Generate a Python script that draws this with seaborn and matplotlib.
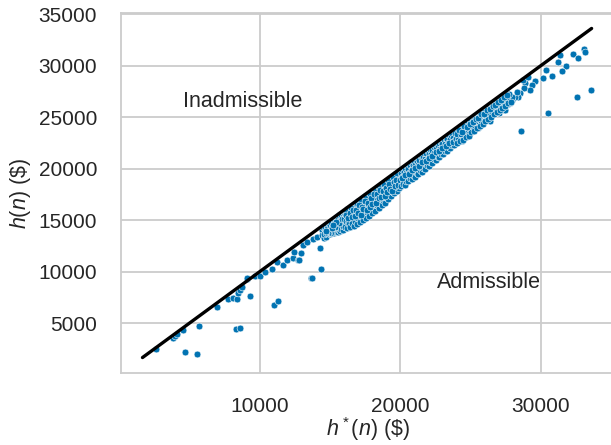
import matplotlib
matplotlib.use("Agg")
import matplotlib.pyplot as plt
import pandas as pd
import seaborn as sns

# ---- data -------------------------------------------------------------
# diagonal reference line h(n) = h*(n)
line_x = [1650, 33600]
line_y = [1650, 33600]

# sparse points (low range and outliers)
sparse_pts = [
    (2600, 2450), (3790, 3520), (3950, 3740), (4120, 3900), (4540, 4320),
    (4660, 2210), (5540, 2020), (5660, 4710), (6920, 6580), (7700, 7300),
    (8100, 7400), (8340, 7300), (8460, 7940), (8620, 8200), (8700, 8520),
    (8290, 4390), (8580, 4480), (9290, 7650), (9050, 9270), (9120, 9340),
    (9640, 9560), (10000, 9560), (10400, 9980), (10880, 10210), (11020, 6750),
    (11260, 7140), (11190, 10890), (11660, 10630), (11900, 11120), (12330, 11280),
    (12440, 11920), (12730, 11120), (12920, 11830), (13080, 12570), (13320, 12890),
    (13630, 9340), (13800, 13130), (14270, 12310), (14340, 10240), (14030, 13400),
    (14500, 13710), (12780, 11120), (13680, 9400),
    (28580, 23640), (30470, 25360), (32540, 26970), (33540, 27620),
    (26210, 24870), (27320, 25680),
    (33060, 31570), (33130, 31340), (32300, 31090), (32610, 30700),
    (31230, 30370), (31350, 31020), (31760, 29980), (31520, 29500),
    (30760, 29010), (30360, 29560), (30170, 28820), (29570, 28500),
    (29340, 28110), (29220, 27620), (28860, 28330), (28810, 27790),
    (28500, 27300), (28390, 26970), (28150, 26910), (27910, 26650),
    (27790, 26330), (28740, 28590), (29050, 28910), (27440, 26330),
    (27440, 25680), (28270, 27460), (27910, 26970), (27320, 26490),
    (26850, 26330), (26490, 26000), (26250, 25680), (25660, 25500),
]

band_a = [
    (14390, 14070), (14440, 13570), (14500, 14350), (14540, 13300), (14610, 14050),
    (14650, 14240), (14720, 13390), (14760, 14520), (14810, 14120), (14870, 13890),
    (14910, 14730), (14980, 13620), (15020, 14500), (15070, 14770), (15130, 14310),
    (15170, 14060), (15240, 15030), (15280, 14640), (15330, 14050), (15390, 15020),
    (15430, 14500), (15490, 15230), (15540, 14220), (15580, 15100), (15650, 15490),
    (15690, 14930), (15740, 14690), (15800, 15460), (15850, 14660), (15900, 15300),
    (15960, 15740),
    (14560, 13650), (14690, 13780), (14840, 13700), (14950, 13880), (15050, 13790),
    (15160, 13750), (15260, 13700), (15360, 13860), (15460, 13800), (15560, 13820),
    (15620, 14080), (15720, 13900), (15780, 14150), (15880, 14020), (15940, 14400),
    (15350, 14330), (15610, 14700), (15100, 14180), (14680, 13950), (15870, 15100),
    (15450, 14830), (15200, 14560),
]

band_b = [
    (16010, 15120), (16060, 15620), (16120, 14920), (16170, 16040), (16220, 15510),
    (16280, 14890), (16330, 16050), (16380, 15840), (16440, 15430), (16490, 16300),
    (16540, 14870), (16600, 16210), (16650, 15820), (16700, 16080), (16760, 16510),
    (16810, 15670), (16860, 16400), (16920, 15140), (16970, 16800), (17020, 16280),
    (17080, 16730), (17130, 16170), (17180, 15900), (17240, 17010), (17290, 16710),
    (17340, 15840), (17400, 17090), (17450, 16650), (17500, 17360), (17560, 16490),
    (17610, 17180), (17660, 17000), (17720, 15790), (17770, 17500), (17820, 16910),
    (17880, 17380), (17930, 16750), (17980, 17780), (18040, 16420), (18090, 17710),
    (18140, 17420), (18200, 17170), (18250, 17960), (18300, 17750), (18360, 17010),
    (18410, 18250), (18460, 17610), (18520, 18050), (18570, 17350), (18620, 18290),
    (18680, 18070), (18730, 17020), (18780, 18540), (18840, 17850), (18890, 18470),
    (18940, 17500), (19000, 18820), (19050, 18280), (19100, 18540), (19160, 18070),
    (19210, 18900), (19260, 17700), (19320, 18640), (19370, 19160), (19420, 18480),
    (19480, 19080), (19530, 18270), (19580, 19430), (19640, 18910), (19690, 17840),
    (19740, 19380), (19800, 19280), (19850, 18720), (19900, 19630), (19960, 19320),
    (16150, 15900), (16460, 16180), (16890, 16620), (17210, 16880), (17530, 17150),
    (17850, 17560), (18170, 17900), (18490, 18200), (18810, 18480), (19130, 18840),
    (19450, 19170), (19770, 19520), (16350, 15300), (16980, 15800), (17650, 16300),
    (18330, 16900), (19050, 17400),
    (16050, 14300), (16200, 14250), (16320, 14600), (16430, 14280), (16570, 14700),
    (16680, 14400), (16780, 14900), (16900, 14620), (17000, 15150), (17110, 14800),
    (17220, 15350), (17320, 15000), (17440, 15520), (17540, 15200), (17650, 15750),
    (17760, 15400), (17870, 15950), (17990, 15650), (18100, 16250), (18210, 15900),
    (18320, 16500), (18440, 16150), (18550, 16700), (18660, 16450), (18770, 16950),
    (18880, 16700), (19000, 17200), (19120, 17000), (19230, 17500), (19340, 17300),
    (19450, 17700), (19570, 17600), (19680, 17950), (19790, 17800), (19900, 18150),
    (16100, 15500), (16250, 15150), (16410, 15700), (16520, 15250), (16640, 15950),
    (16740, 15400), (16840, 16000), (16950, 15650), (17060, 16450), (17160, 15500),
    (17260, 16300), (17370, 16100), (17480, 16850), (17590, 15950), (17700, 16650),
    (17800, 16300), (17910, 17100), (18010, 16600), (18120, 17500), (18230, 16700),
    (18340, 17550), (18450, 17100), (18560, 17900), (18650, 17200), (18760, 17800),
    (18870, 17350), (18980, 18100), (19080, 17750), (19190, 18500), (19290, 18050),
    (19400, 17850), (19510, 18700), (19620, 18300), (19720, 18850), (19830, 18400),
    (19940, 18850),
]

band_c = [
    (20020, 19610), (20080, 19150), (20140, 19960), (20200, 18940), (20260, 19700),
    (20320, 20020), (20380, 19600), (20440, 18960), (20500, 20260), (20560, 19910),
    (20620, 19600), (20680, 20330), (20740, 20590), (20800, 19930), (20860, 20390),
    (20920, 19580), (20980, 20760), (21040, 20340), (21100, 19990), (21160, 20780),
    (21220, 21030), (21280, 20320), (21340, 20820), (21400, 19820), (21460, 21180),
    (21520, 20880), (21580, 20390), (21640, 21210), (21700, 21540), (21760, 20940),
    (21820, 21460), (21880, 20830), (21940, 21690), (22000, 21410), (22060, 20650),
    (22120, 21920), (22180, 21440), (22240, 21760), (22300, 21020), (22360, 22050),
    (22420, 21520), (22480, 22310), (22540, 21920), (22600, 21450), (22660, 22260),
    (22720, 22490), (22780, 21930), (22840, 21340), (22900, 22570), (22960, 22420),
    (23020, 22020), (23080, 22870), (23140, 22380), (23200, 21840), (23260, 22970),
    (23320, 22870), (23380, 22440), (23440, 23260), (23500, 22820), (23560, 22340),
    (23620, 23250), (23680, 23420), (23740, 22940), (23800, 22720), (23860, 23420),
    (20050, 18350), (20180, 18500), (20290, 18450), (20420, 18800), (20540, 18750),
    (20660, 19100), (20790, 18950), (20910, 19350), (21030, 19200), (21150, 19600),
    (21270, 19450), (21390, 19850), (21510, 19700), (21640, 20100), (21760, 19950),
    (21880, 20350), (22010, 20250), (22130, 20600), (22260, 20500), (22380, 20900),
    (22510, 20800), (22640, 21150), (22770, 21100), (22900, 21450), (23030, 21400),
    (23160, 21750), (23290, 21700), (23420, 22050), (23550, 22000), (23680, 22300),
    (23810, 22250), (23940, 22550),
    (20110, 19050), (20350, 19350), (20600, 19500), (20830, 19900), (21070, 20050),
    (21310, 20250), (21550, 20600), (21790, 20700), (22030, 21050), (22270, 21200),
    (22510, 21600), (22750, 21700), (22990, 22000), (23230, 22150), (23470, 22500),
    (23710, 22600), (23950, 22900),
]

band_d = [
    (24000, 23380), (24100, 22750), (24190, 23910), (24290, 23380), (24380, 22660),
    (24480, 24030), (24580, 23480), (24670, 24340), (24770, 23990), (24860, 23360),
    (24960, 24750), (25060, 24070), (25150, 24590), (25250, 23970), (25340, 24950),
    (25440, 24600), (25540, 23890), (25630, 25360), (25730, 24570), (25820, 25200),
    (25920, 25490), (26020, 24600), (26110, 25370), (26210, 25910), (26300, 25290),
    (26400, 24610), (26500, 26000), (26590, 25720), (26690, 26440), (26780, 25550),
    (26880, 26200), (26980, 25420), (27070, 26710), (27170, 26220), (27260, 26790),
    (27360, 26170), (27460, 27170), (27550, 26740), (27650, 26270), (27740, 27200),
    (24050, 22450), (24250, 22700), (24440, 22800), (24650, 23100), (24850, 23200),
    (25050, 23500), (25250, 23650), (25450, 23950), (25650, 24100), (25850, 24350),
    (26050, 24600), (26250, 24850), (26450, 25000), (26650, 25300), (26850, 25450),
    (27050, 25700), (27250, 25900), (27450, 26100), (27650, 26350), (27850, 26500),
    (24150, 23700), (24350, 23550), (24550, 24100), (24750, 24050), (24950, 24350),
    (25150, 24500), (25350, 24850), (25550, 24950), (25750, 25250), (25950, 25300),
    (26150, 25650), (26350, 25800), (26550, 26100), (26750, 26150), (26950, 26500),
    (27150, 26650), (27350, 26900), (27550, 27100),
]

all_pts = sparse_pts + band_a + band_b + band_c + band_d
df = pd.DataFrame(all_pts, columns=["h_star", "h"])

x_ticks = [10000, 20000, 30000]
y_ticks = [5000, 10000, 15000, 20000, 25000, 30000, 35000]

# ---- styling ------------------------------------------------------------
sns.set_theme(style="whitegrid")
plt.rcParams['font.family'] = ['Liberation Sans', 'DejaVu Sans']
plt.rcParams['mathtext.fontset'] = 'custom'
plt.rcParams['mathtext.rm'] = 'Liberation Sans'
plt.rcParams['mathtext.it'] = 'Liberation Sans:italic'

fig = plt.figure(figsize=(6.11, 4.45), dpi=100)
W, H = 611, 445
ax = fig.add_axes([120.7 / W, (H - 373) / H, (615.5 - 120.7) / W, (373 - 13) / H])

sns.scatterplot(data=df, x="h_star", y="h", s=24, color="#0173b2",
                edgecolor="white", linewidth=0.4, ax=ax, zorder=3)
sns.lineplot(x=line_x, y=line_y, color="black", linewidth=2.4, ax=ax, zorder=4)

ax.set_xlim(100, 35300)
ax.set_ylim(150, 35100)
ax.set_xticks(x_ticks)
ax.set_yticks(y_ticks)
ax.tick_params(axis="both", labelsize=15, pad=11, colors="#262626")
ax.grid(True, color="#cccccc", linewidth=1.3)
for s in ax.spines.values():
    s.set_color("#cccccc")
    s.set_linewidth(1.3)

ax.set_xlabel(r"$h^*(n)$ (\$)", fontsize=15.5, color="#262626")
ax.set_ylabel(r"$h(n)$ (\$)", fontsize=15.5, color="#262626")
ax.xaxis.set_label_coords(0.5, -0.118)
ax.yaxis.set_label_coords(-0.178, 0.5)

ax.text(8800, 26500, "Inadmissible", ha="center", va="center", fontsize=15.5, color="#262626")
ax.text(26300, 8900, "Admissible", ha="center", va="center", fontsize=15.5, color="#262626")

fig.savefig("out.png", dpi=100)
